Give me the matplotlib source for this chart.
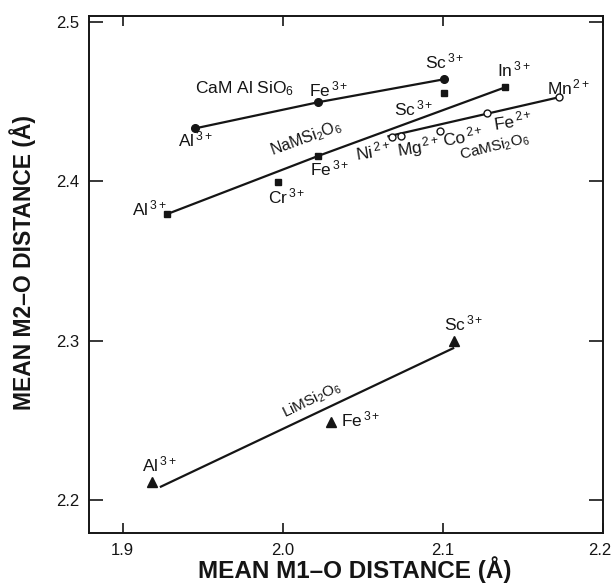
import matplotlib
matplotlib.use("Agg")
import matplotlib.pyplot as plt
from matplotlib.transforms import ScaledTranslation

plt.rcParams["font.family"] = ["Liberation Sans", "DejaVu Sans"]
plt.rcParams["mathtext.fontset"] = "custom"
plt.rcParams["mathtext.rm"] = "Liberation Sans"
plt.rcParams["mathtext.it"] = "Liberation Sans:italic"
plt.rcParams["mathtext.bf"] = "Liberation Sans:bold"

# CaMAlSiO6 (filled circles): Al3+, Fe3+, Sc3+
camal_x = [1.9455, 2.0223, 2.1008]
camal_y = [2.4333, 2.4497, 2.4641]

# NaMSi2O6 (filled squares): Al3+, Fe3+, In3+ on the line
nam_x = [1.9274, 2.0223, 2.1388]
nam_y = [2.3793, 2.4160, 2.4590]
# NaMSi2O6 off the line: Cr3+, Sc3+
nam_extra_x = [1.9970, 2.1008]
nam_extra_y = [2.3994, 2.4557]

# CaMSi2O6 (open circles): Ni2+, Mg2+, Co2+, Fe2+, Mn2+
cam_x = [2.0682, 2.0738, 2.0981, 2.1278, 2.1725]
cam_y = [2.4281, 2.4285, 2.4318, 2.4431, 2.4528]
cam_line_x = [2.0660, 2.1725]
cam_line_y = [2.4283, 2.4528]

# LiMSi2O6 (filled triangles): Al3+, Fe3+, Sc3+
li_x = [1.9181, 2.0302, 2.1072]
li_y = [2.2111, 2.2492, 2.3000]
li_line_x = [1.9239, 2.1064]
li_line_y = [2.2083, 2.2952]

xticks = [1.9, 2.0, 2.1, 2.2]
yticks = [2.2, 2.3, 2.4, 2.5]

ink = "#151515"
lw = 1.6

fig = plt.figure(figsize=(6.13, 5.88), dpi=100)
ax = fig.add_axes([0.1452, 0.0930, 0.8385, 0.8803])

ax.plot(camal_x, camal_y, "-o", color=ink, lw=lw, ms=5.5)
ax.plot(nam_x, nam_y, "-s", color=ink, lw=lw, ms=5)
ax.plot(nam_extra_x, nam_extra_y, "s", color=ink, ms=5)
ax.plot(cam_line_x, cam_line_y, "-", color=ink, lw=lw)
ax.plot(cam_x, cam_y, "o", mfc="white", mec=ink, mew=1.0, ms=5, zorder=3)
ax.plot(li_line_x, li_line_y, "-", color=ink, lw=lw)
ax.plot(li_x, li_y, "^", color=ink, ms=7.5, zorder=3)


def ion(sym, charge):
    return sym + r"$^{\,%s}$" % charge


fs = 12.5
lab = dict(fontsize=fs, color=ink, va="baseline", ha="left")
# CaMAlSiO6
ax.text(1.9452, 2.4555, "CaM Al SiO$_6$", **lab)
ax.text(1.9346, 2.4218, ion("Al", "3+"), **lab)
ax.text(2.0161, 2.4532, ion("Fe", "3+"), **lab)
ax.text(2.0890, 2.4710, ion("Sc", "3+"), **lab)
# NaMSi2O6
ax.text(1.9058, 2.3783, ion("Al", "3+"), **lab)
ax.text(1.9906, 2.3862, ion("Cr", "3+"), **lab)
ax.text(2.0169, 2.4040, ion("Fe", "3+"), **lab)
ax.text(2.0696, 2.4417, ion("Sc", "3+"), **lab)
ax.text(2.1340, 2.4662, ion("In", "3+"), **lab)
ax.text(2.0143, 2.4272, "NaMSi$_2$O$_6$", fontsize=fs - 1, color=ink,
        ha="center", va="center", rotation=20, rotation_mode="anchor")
# CaMSi2O6
rot = dict(fontsize=fs, color=ink, ha="center", va="center", rotation=9,
           rotation_mode="anchor")
ax.text(2.0565, 2.4191, ion("Ni", "2+"), **rot)
ax.text(2.0850, 2.4216, ion("Mg", "2+"), **rot)
ax.text(2.1126, 2.4285, ion("Co", "2+"), **rot)
ax.text(2.1438, 2.4379, ion("Fe", "2+"), **rot)
ax.text(2.1651, 2.4547, ion("Mn", "2+"), **lab)
ax.text(2.1326, 2.4218, "CaMSi$_2$O$_6$", fontsize=fs - 1.5, color=ink,
        ha="center", va="center", rotation=14, rotation_mode="anchor")
# LiMSi2O6
ax.text(1.9118, 2.2178, ion("Al", "3+"), **lab)
ax.text(2.0365, 2.2460, ion("Fe", "3+"), **lab)
ax.text(2.1009, 2.3063, ion("Sc", "3+"), **lab)
ax.text(2.0183, 2.2628, "LiMSi$_2$O$_6$", fontsize=fs - 1.5, color=ink,
        ha="center", va="center", rotation=26, rotation_mode="anchor")

ax.set_xlim(1.879, 2.2)
ax.set_ylim(2.179, 2.504)
ax.set_xticks(xticks)
ax.set_yticks(yticks)
ax.set_xticklabels([f"{v:.1f}" for v in xticks])
ax.set_yticklabels([f"{v:.1f}" for v in yticks])

for s in ax.spines.values():
    s.set_linewidth(1.4)
    s.set_color(ink)
ax.tick_params(axis="x", direction="in", length=7, width=1.2, top=True,
               labelsize=12, pad=7, colors=ink)
ax.tick_params(axis="y", direction="in", length=10, width=1.2, right=True,
               labelsize=12, pad=7, colors=ink)

# last x tick label sits at the figure edge; nudge it left a little
last = ax.get_xticklabels()[-1]
last.set_transform(last.get_transform()
                   + ScaledTranslation(-3 / 100, 0, fig.dpi_scale_trans))

ax.text(0.5175, -0.071, "MEAN M1–O DISTANCE (Å)", transform=ax.transAxes,
        fontsize=17.5, fontweight="bold", color=ink, ha="center", va="center")
ax.text(-0.130, 0.524, "MEAN M2–O DISTANCE (Å)", transform=ax.transAxes,
        fontsize=16.5, fontweight="bold", color=ink, ha="center", va="center",
        rotation=90)

fig.savefig("out.png", dpi=100)
